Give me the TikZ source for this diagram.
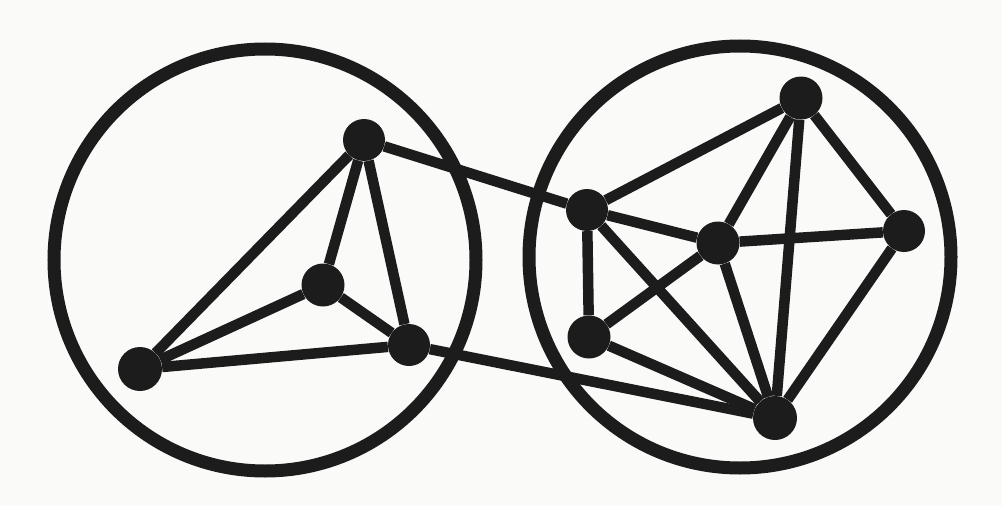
\documentclass[tikz,border=0pt]{standalone}
\usetikzlibrary{backgrounds}
\pgfdeclarelayer{bgl}
\pgfdeclarelayer{edgel}
\pgfsetlayers{bgl,edgel,main}
\definecolor{ink}{RGB}{28,28,28}
\definecolor{paper}{RGB}{250,250,248}
\tikzset{
  vtx/.style={circle,fill=ink,draw=none,minimum size=42pt,inner sep=0pt},
  edge/.style={draw=ink,line width=10.5pt},
  ring/.style={draw=ink,line width=13pt}
}
\begin{document}
\begin{tikzpicture}[x=1pt,y=-1pt]
\begin{pgfonlayer}{bgl}
\fill[paper] (0,0) rectangle (1002,506);
\end{pgfonlayer}
\useasboundingbox (0,0) rectangle (1002,506);
% left cluster
\node[vtx] (A) at (364,140) {};
\node[vtx,minimum size=43pt] (B) at (323,285) {};
\node[vtx] (C) at (409,345) {};
\node[vtx,minimum size=44pt] (D) at (140,369) {};
% right cluster
\node[vtx] (E) at (587,210) {};
\node[vtx,minimum size=43pt] (F) at (801,98) {};
\node[vtx,minimum size=43pt] (G) at (718,243) {};
\node[vtx] (H) at (904,231) {};
\node[vtx,minimum size=43pt] (I) at (589,337) {};
\node[vtx,minimum size=44pt] (J) at (775,418) {};
\begin{pgfonlayer}{edgel}
\draw[ring] (265,260) circle[radius=211];
\draw[ring] (740,257) circle[radius=211];
\draw[edge] (A) -- (B);
\draw[edge] (A) -- (C);
\draw[edge] (A) -- (D);
\draw[edge] (B) -- (C);
\draw[edge] (B) -- (D);
\draw[edge] (C) -- (D);
\draw[edge] (A) -- (E);
\draw[edge] (C) -- (J);
\draw[edge] (E) -- (F);
\draw[edge] (E) -- (G);
\draw[edge] (E) -- (I);
\draw[edge] (E) -- (J);
\draw[edge] (F) -- (G);
\draw[edge] (F) -- (H);
\draw[edge] (F) -- (J);
\draw[edge] (G) -- (H);
\draw[edge] (G) -- (I);
\draw[edge] (G) -- (J);
\draw[edge] (H) -- (J);
\draw[edge] (I) -- (J);
\end{pgfonlayer}
\end{tikzpicture}
\end{document}
